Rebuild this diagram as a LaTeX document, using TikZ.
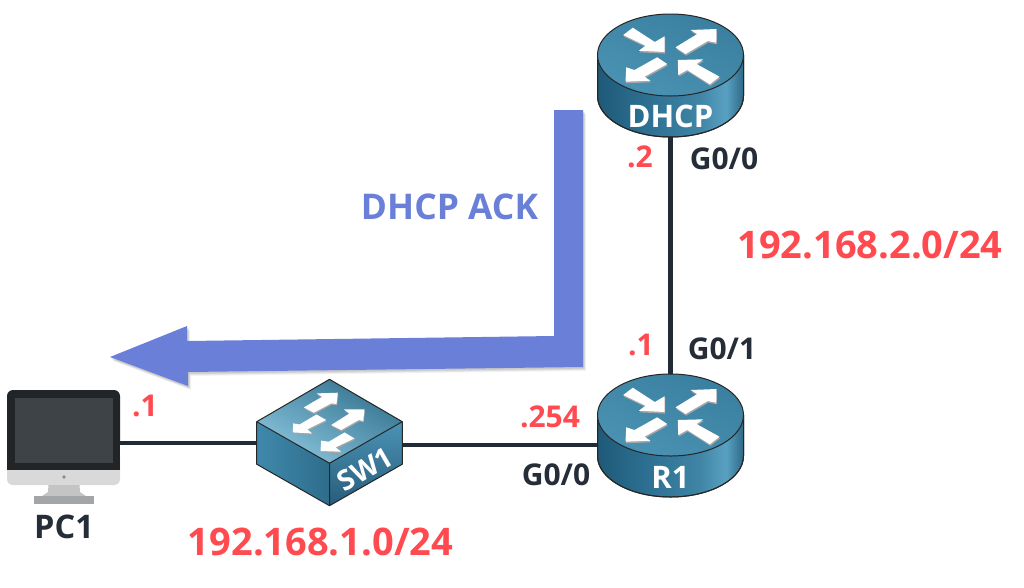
\documentclass[tikz,border=0pt]{standalone}
\usepackage{fontspec}
\setmainfont{Open Sans}
\definecolor{wire}{HTML}{212B36}
\definecolor{ink}{HTML}{252D38}
\definecolor{redlab}{HTML}{FF4A50}
\definecolor{ackblue}{HTML}{6A7FD8}
\definecolor{rtop}{HTML}{3A7F9F}
\definecolor{rmid}{HTML}{8FC6DE}
\definecolor{rbot}{HTML}{4A92B3}
\definecolor{swtop}{HTML}{33738F}
\definecolor{swbot}{HTML}{8AC3DC}
\definecolor{swleftA}{HTML}{4089AC}
\definecolor{swleftB}{HTML}{2E6C8B}
\definecolor{swrightA}{HTML}{4B93B6}
\definecolor{swrightB}{HTML}{285C7A}
\definecolor{pcbezel}{HTML}{212528}
\definecolor{pcscreen}{HTML}{3E4347}
\definecolor{pcchin}{HTML}{D9D9D9}
\definecolor{pcneck}{HTML}{C4C4C4}
\definecolor{pcbase}{HTML}{A3A5A6}
\pgfdeclarehorizontalshading{routerside}{100bp}{
 rgb(0bp)=(.12,.35,.47);
 rgb(25bp)=(.12,.35,.47);
 rgb(40bp)=(.17,.43,.56);
 rgb(60bp)=(.25,.52,.65);
 rgb(69bp)=(.35,.63,.76);
 rgb(75bp)=(.18,.41,.53);
 rgb(100bp)=(.18,.41,.53)}
\tikzset{
 hidden/.style={inner sep=0pt,outer sep=0pt},
 wireline/.style={draw=wire,line width=4.5pt},
 edgeline/.style={draw=black!85,line width=1pt},
 arrowwhite/.style={fill=white},
 arrowshade/.style={fill=black!35},
 redlabel/.style={text=redlab,inner sep=0pt,font=\bfseries\fontsize{30}{34}\selectfont},
 netlabel/.style={text=redlab,inner sep=0pt,font=\bfseries\fontsize{38}{44}\selectfont},
 portlabel/.style={text=ink,inner sep=0pt,font=\bfseries\fontsize{30}{34}\selectfont},
 devname/.style={text=white,inner sep=0pt,font=\bfseries\fontsize{31}{34}\selectfont},
 pclabel/.style={text=ink,inner sep=0pt,font=\bfseries\fontsize{32.5}{36}\selectfont},
 acklabel/.style={text=ackblue,inner sep=0pt,font=\bfseries\fontsize{35.4}{40}\selectfont},
}
\newcommand{\routerarrows}{
 (-47.3,-20)--(-37.7,-27.3)--(-15.7,-13)--(-6,-18.7)--(-6,-3)--(-31.7,-4.3)--(-25,-9.3)--cycle
 (5,-7.7)--(15,-1)--(37.3,-14)--(45.7,-12.3)--(46,-26)--(20,-25)--(26.7,-21)--cycle
 (-3.3,9)--(-13.3,2.3)--(-36,15)--(-44.3,12.3)--(-45,26.7)--(-20,25.7)--(-26,21.7)--cycle
 (7.3,5)--(32.7,4.3)--(26,9)--(49,21.7)--(39.3,29.3)--(16.7,15)--(7.7,20)--cycle}
\newcommand{\switcharrows}{
 (-25.7,-14.3)--(-15.7,-9)--(1.7,-18.3)--(7,-17.7)--(8.3,-29)--(-13,-28.3)--(-7.3,-25)--cycle
 (-3.3,-1.7)--(-13,-7.3)--(-29.7,2.7)--(-36.3,1.7)--(-36.7,10.7)--(-17.3,11.7)--(-22.3,7.7)--cycle
 (1.7,3.3)--(11.7,8.3)--(29.3,-1.7)--(33.7,-.7)--(35,-12.3)--(14.3,-12.3)--(20,-8.3)--cycle
 (25,16.7)--(15,10.7)--(-.7,20)--(-8.3,19)--(-9,29.3)--(11.7,30)--(6,25.7)--cycle}
\newcommand{\ackshape}{(110,357)--(187,326)--(187,341)--(554,336)--(554,110)--(583,110)--(583,367)--(188,372)--(188,386)--cycle}
\newcommand{\drawrouter}[2]{
 \begin{scope}[shift={(#1,#2)}]
  \path[shading=routerside,edgeline]
    (-73,0) -- (-73,41) arc[start angle=180,end angle=0,x radius=73,y radius=41] -- (73,0) -- cycle;
  \draw[edgeline] (-73,0) -- (-73,41) arc[start angle=180,end angle=0,x radius=73,y radius=41] -- (73,0);
  \shade[top color=rtop,middle color=rmid,bottom color=rbot,shading angle=-25]
    (0,0) ellipse[x radius=73,y radius=41];
  \draw[edgeline] (0,0) ellipse[x radius=73,y radius=41];
  \begin{scope}[shift={(0.6,1.6)}]\fill[arrowshade] \routerarrows;\end{scope}
  \fill[arrowwhite] \routerarrows;
 \end{scope}}
\begin{document}
\begin{tikzpicture}[x=1pt,y=-1pt]
\useasboundingbox[fill=white] (0,0) rectangle (1024,587);
% anchor nodes for devices
\node[hidden,minimum width=147pt,minimum height=124pt] (dhcp) at (670.5,75) {};
\node[hidden,minimum width=147pt,minimum height=106pt] (r1) at (670.5,445) {};
\node[hidden,minimum width=146pt,minimum height=122pt] (sw1) at (329.5,445) {};
\node[hidden,minimum width=113pt,minimum height=106pt] (pc1) at (63.5,443) {};
% links
\draw[wireline] (dhcp.south) -- (r1.north);
\draw[wireline] (sw1.east) -- (r1.west);
\draw[wireline] (pc1.east) -- (pc1.east -| sw1.west);
% DHCP ACK arrow shadow + body
\foreach \o/\a in {5/0.04,4/0.05,3/0.06,2/0.07}{
 \fill[black,opacity=\a,shift={(\o*0.6,\o*0.8)}] \ackshape;}
\fill[ackblue] \ackshape;
% routers
\drawrouter{670.5}{55}
\drawrouter{670.5}{415}
% switch
\begin{scope}[shift={(329.5,421.7)}]
 \shade[left color=swleftA,right color=swleftB]
   (-72.8,0)--(0,41.5)--(0,84)--(-72.8,42.5)--cycle;
 \shade[top color=swrightA,bottom color=swrightB]
   (72.8,0)--(0,41.5)--(0,84)--(72.8,42.5)--cycle;
 \shade[top color=swtop,bottom color=swbot,shading angle=-30]
   (0,-42.4)--(72.8,0)--(0,41.5)--(-72.8,0)--cycle;
 \draw[edgeline,line join=round] (0,-42.4)--(72.8,0)--(72.8,42.5)--(0,84)--(-72.8,42.5)--(-72.8,0)--cycle (-72.8,0)--(0,41.5)--(72.8,0) (0,41.5)--(0,84);
 \begin{scope}[shift={(0.5,1.4)}]\fill[arrowshade] \switcharrows;\end{scope}
 \fill[arrowwhite] \switcharrows;
\end{scope}
% PC
\fill[pcchin,rounded corners=6pt] (7,450) rectangle (120,485);
\fill[pcbezel,rounded corners=6pt] (7,390) rectangle (120,450);
\fill[pcbezel] (7,430) rectangle (120,470);
\fill[pcscreen] (14.7,398) rectangle (112.7,463);
\fill[black!45] (64,477) circle[radius=1.8];
\fill[pcneck] (48.5,485)--(79.5,485)--(80,492)--(86,496)--(42,496)--(48,492)--cycle;
\fill[pcbase] (33.5,496) rectangle (94,504);
% labels
\node[devname] (dhcpname) at (670.5,116) {DHCP};
\node[devname] (r1name) at (670.5,477) {R1};
\node[devname,rotate=30,font=\bfseries\fontsize{28}{32}\selectfont] (swname) at (365,469) {SW1};
\node[pclabel] (pcname) at (64,527) {PC1};
\node[acklabel] (ack) at (449.5,207) {DHCP ACK};
\node[netlabel] (net2) at (870,245) {192.168.2.0/24};
\node[netlabel] (net1) at (320.5,542) {192.168.1.0/24};
\node[redlabel] (a1) at (145,406) {.1};
\node[redlabel] (a2) at (550,417) {.254};
\node[redlabel] (a3) at (641,345) {.1};
\node[redlabel] (a4) at (640,157) {.2};
\node[portlabel] (p1) at (556,475) {G0/0};
\node[portlabel] (p2) at (722,349) {G0/1};
\node[portlabel] (p3) at (724,159) {G0/0};
\end{tikzpicture}
\end{document}
